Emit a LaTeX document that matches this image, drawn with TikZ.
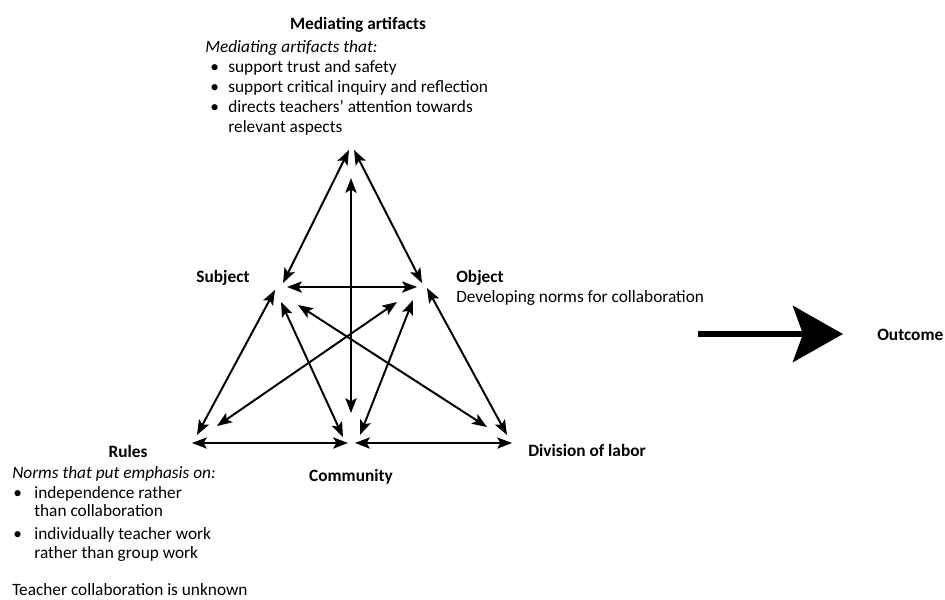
\documentclass[tikz,border=0pt]{standalone}
\usepackage{fontspec}
\setmainfont{Carlito}
\usepackage{tikz}
\usetikzlibrary{arrows.meta,positioning,calc}

\newcommand{\bul}[1]{\makebox[#1][l]{\textbullet}}

\begin{document}
\begin{tikzpicture}[
    x=0.025cm, y=-0.025cm,
    head/.style={font=\fontsize{12.3}{14}\selectfont\bfseries, inner sep=0pt},
    desc/.style={font=\fontsize{12.3}{14.2}\selectfont, align=left, inner sep=0pt},
    arr/.style={{Stealth[length=3.7mm,width=2.8mm,inset=0.8mm]}-{Stealth[length=3.7mm,width=2.8mm,inset=0.8mm]}, line width=1.4pt},
    outarr/.style={-{Stealth[length=12.5mm,width=14mm,inset=2.5mm]}, line width=4.3pt}
]
    \useasboundingbox (0,0) rectangle (945,599);

    % Corners of the activity triangle
    \coordinate (mediating) at (351,150);
    \coordinate (subject)   at (280,290);
    \coordinate (object)    at (422,290);
    \coordinate (rules)     at (194,443);
    \coordinate (community) at (351,443);
    \coordinate (division)  at (509,443);

    % Labels
    \node[head] (medtitle) at (358,25) {Mediating artifacts};
    \node[desc, anchor=north west] (meddesc) at (205,40)
        {\textit{Mediating artifacts that:}\\
         \hspace*{3.6pt}\bul{12.8pt}support trust and safety\\
         \hspace*{3.6pt}\bul{12.8pt}support critical inquiry and reflection\\
         \hspace*{3.6pt}\bul{12.8pt}directs teachers’ attention towards\\
         \hspace*{16.4pt}relevant aspects};
    \node[head] (subjlbl) at (223,278) {Subject};
    \node[head, anchor=west] (objlbl) at (456,278) {Object};
    \node[desc, anchor=west] (objdesc) at (456,298) {Developing norms for collaboration};
    \node[head] (ruleslbl) at (128,451) {Rules};
    \node[desc, anchor=north west] (rulesdesc) at (12,466)
        {\textit{Norms that put emphasis on:}\\
         \hspace*{0.7pt}\bul{15pt}independence rather\\[-1pt]
         \hspace*{15.7pt}than collaboration\\[2pt]
         \hspace*{0.7pt}\bul{15pt}individually teacher work\\[-1pt]
         \hspace*{15.7pt}rather than group work};
    \node[desc, anchor=west] (unknown) at (12,590) {Teacher collaboration is unknown};
    \node[head] (commlbl) at (351,477) {Community};
    \node[head, anchor=west] (divlbl) at (528,450) {Division of labor};
    \node[head, anchor=west] (outcome) at (877,335) {Outcome};

    % Two-way links of the triangle
    \draw[arr] ($(mediating)+(-2,0)$) -- ($(subject)+(3,-7)$);
    \draw[arr] ($(mediating)+(3,0)$)  -- ($(object)+(0,-7)$);
    \draw[arr] ($(mediating)+(0,28)$) -- ($(community)+(0,-30)$);
    \draw[arr] ($(subject)+(7,-3)$)   -- ($(object)+(-5,-3)$);
    \draw[arr] ($(subject)+(-5,0)$)   -- ($(rules)+(3,-8)$);
    \draw[arr] ($(subject)+(1,12)$)   -- ($(community)+(-8,-6)$);
    \draw[arr] ($(subject)+(18,15)$)  -- ($(division)+(-22,-16)$);
    \draw[arr] ($(object)+(-25,12)$)  -- ($(rules)+(23,-17)$);
    \draw[arr] ($(object)+(-9,10)$)   -- ($(community)+(9,-8)$);
    \draw[arr] ($(object)+(5,-2)$)    -- ($(division)+(-2,-8)$);
    \draw[arr] ($(rules)+(-2,0)$)     -- ($(community)+(-3,0)$);
    \draw[arr] ($(community)+(4,0)$)  -- ($(division)+(3,0)$);

    % Outcome arrow
    \coordinate (outstart) at (698,334);
    \draw[outarr, shorten >=0.85cm] (outstart) -- (outstart -| outcome.west);

\end{tikzpicture}
\end{document}
